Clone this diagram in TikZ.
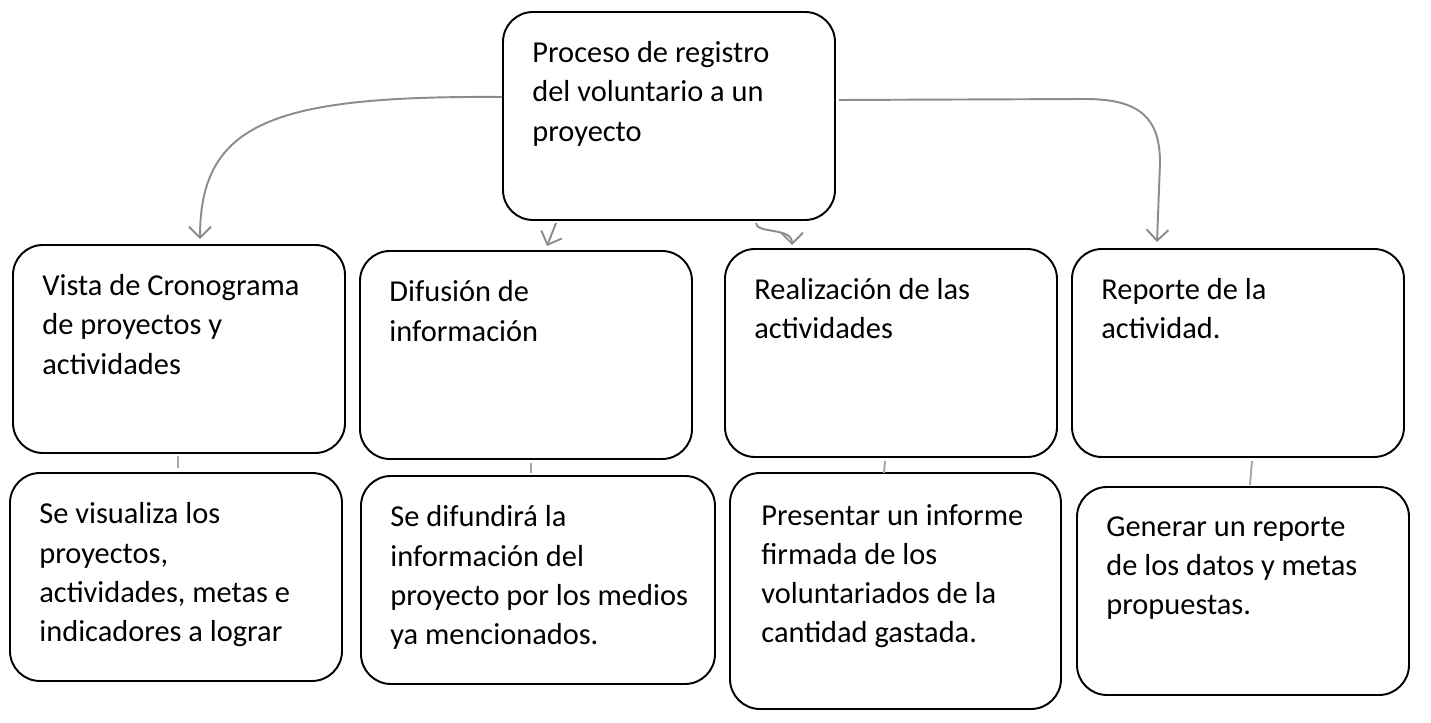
\documentclass[tikz,border=0pt]{standalone}
\usepackage{fontspec}
\setmainfont{Carlito}
\usepackage{tikz}
\usetikzlibrary{positioning,arrows.meta,calc}

\begin{document}
\begin{tikzpicture}[
  box/.style={draw, line width=1.1pt, rounded corners=0.6cm, inner sep=0pt},
  lab/.style={font=\fontsize{17.3}{22.2}\selectfont, align=left, anchor=north west,
    inner sep=0pt, execute at begin node=\strut},
  link/.style={-{Straight Barb[length=2.2mm,width=4.4mm]}, line width=1.1pt, black!45},
  stub/.style={line width=1.1pt, black!35}
]
  \useasboundingbox (0,0) rectangle (28.62,14.46);

  % --- top box -----------------------------------------------------------
  \node[box, minimum width=6.64cm, minimum height=4.16cm] (top) at (13.38,12.14) {};
  \node[lab] (toplab) at ($(top.north west)+(0.6,-0.61)$)
    {Proceso de registro\\del voluntario a un\\proyecto};

  % --- first row ---------------------------------------------------------
  \node[box, minimum width=6.64cm, minimum height=4.16cm] (b1) at (3.58,7.48) {};
  \node[box, minimum width=6.64cm, minimum height=4.16cm] (b2) at (10.52,7.36) {};
  \node[box, minimum width=6.64cm, minimum height=4.16cm] (b3) at (17.82,7.40) {};
  \node[box, minimum width=6.64cm, minimum height=4.16cm] (b4) at (24.76,7.40) {};
  \node[lab] (b1lab) at ($(b1.north west)+(0.6,-0.61)$)
    {Vista de Cronograma\\de proyectos y\\actividades};
  \node[lab] (b2lab) at ($(b2.north west)+(0.6,-0.61)$)
    {Difusión de\\información};
  \node[lab] (b3lab) at ($(b3.north west)+(0.6,-0.61)$)
    {Realización de las\\actividades};
  \node[lab] (b4lab) at ($(b4.north west)+(0.6,-0.61)$)
    {Reporte de la\\actividad.};

  % --- second row --------------------------------------------------------
  \node[box, minimum width=6.64cm, minimum height=4.16cm] (c1) at (3.52,2.92) {};
  \node[box, minimum width=7.08cm, minimum height=4.16cm] (c2) at (10.76,2.86) {};
  \node[box, minimum width=6.62cm, minimum height=4.72cm] (c3) at (17.91,2.64) {};
  \node[box, minimum width=6.64cm, minimum height=4.16cm] (c4) at (24.86,2.64) {};
  \node[lab] (c1lab) at ($(c1.north west)+(0.6,-0.61)$)
    {Se visualiza los\\proyectos,\\actividades, metas e\\indicadores a lograr};
  \node[lab] (c2lab) at ($(c2.north west)+(0.6,-0.61)$)
    {Se difundirá la\\información del\\proyecto por los medios\\ya mencionados.};
  \node[lab] (c3lab) at ($(c3.north west)+(0.64,-0.65)$)
    {Presentar un informe\\firmada de los\\voluntariados de la\\cantidad gastada.};
  \node[lab] (c4lab) at ($(c4.north west)+(0.6,-0.61)$)
    {Generar un reporte\\de los datos y metas\\propuestas.};

  % --- arrows from the top box --------------------------------------------
  \draw[link] ([yshift=0.38cm]top.west)
    .. controls +(-4.56,0.03) and +(0,2.34) .. ([xshift=0.42cm,yshift=0.1cm]b1.north);
  \draw[link] ([xshift=1.08cm,yshift=-0.04cm]top.south west)
    -- ([xshift=3.76cm,yshift=0.08cm]b2.north west);
  \draw[link] ([xshift=5.08cm,yshift=-0.04cm]top.south west)
    .. controls +(0,-0.22) and +(0,0.36) .. ([xshift=1.36cm,yshift=0.06cm]b3.north west);
  \draw[link] ([xshift=0.06cm,yshift=0.32cm]top.east) -- (21.7,12.48)
    .. controls (22.8,12.48) and (23.2,12.1) .. (23.2,11.2)
    -- ([xshift=-1.62cm,yshift=0.12cm]b4.north);

  % --- short marks between the rows ----------------------------------------
  \draw[stub] ([xshift=-0.02cm,yshift=-0.04cm]b1.south) -- +(0,-0.24);
  \draw[stub] ([xshift=0.10cm,yshift=-0.06cm]b2.south) -- +(0,-0.20);
  \draw[stub] ([xshift=-0.12cm,yshift=-0.06cm]b3.south) -- +(-0.02,-0.24);
  \draw[stub] ([xshift=0.28cm,yshift=-0.06cm]b4.south) -- +(-0.04,-0.48);
\end{tikzpicture}
\end{document}
